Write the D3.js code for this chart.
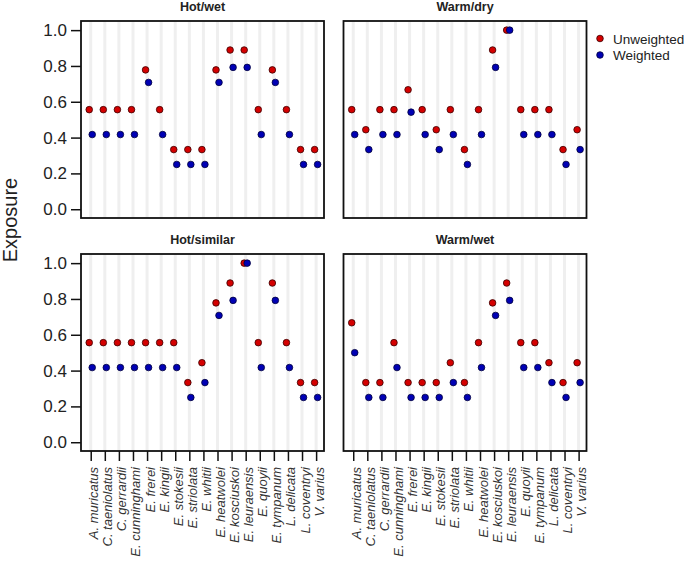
<!DOCTYPE html>
<html>
<head>
<meta charset="utf-8">
<script src="https://cdn.jsdelivr.net/npm/d3@7"></script>
<style>
  body { margin: 0; background: #fff; }
  svg { font-family: "Liberation Sans", Arial, sans-serif; }
</style>
</head>
<body>
<div id="chart"></div>
<script>
var width = 685;
var height = 565;

var species = ["A. muricatus", "C. taeniolatus", "C. gerrardii", "E. cunninghami",
  "E. frerei", "E. kingii", "E. stokesii", "E. striolata", "E. whitii",
  "E. heatwolei", "E. kosciuskoi", "E. leuraensis", "E. quoyii", "E. tympanum",
  "L. delicata", "L. coventryi", "V. varius"];

var yTicks = [0, 0.2, 0.4, 0.6, 0.8, 1.0];

// values per panel
var hotWetUnweighted = [0.556, 0.556, 0.556, 0.556, 0.778, 0.556, 0.333, 0.333, 0.333, 0.778, 0.889, 0.889, 0.556, 0.778, 0.556, 0.333, 0.333];
var hotWetWeighted   = [0.417, 0.417, 0.417, 0.417, 0.708, 0.417, 0.25, 0.25, 0.25, 0.708, 0.792, 0.792, 0.417, 0.708, 0.417, 0.25, 0.25];

var warmDryUnweighted = [0.556, 0.444, 0.556, 0.556, 0.667, 0.556, 0.444, 0.556, 0.333, 0.556, 0.889, 1.0, 0.556, 0.556, 0.556, 0.333, 0.444];
var warmDryWeighted   = [0.417, 0.333, 0.417, 0.417, 0.542, 0.417, 0.333, 0.417, 0.25, 0.417, 0.792, 1.0, 0.417, 0.417, 0.417, 0.25, 0.333];

var hotSimilarUnweighted = [0.556, 0.556, 0.556, 0.556, 0.556, 0.556, 0.556, 0.333, 0.444, 0.778, 0.889, 1.0, 0.556, 0.889, 0.556, 0.333, 0.333];
var hotSimilarWeighted   = [0.417, 0.417, 0.417, 0.417, 0.417, 0.417, 0.417, 0.25, 0.333, 0.708, 0.792, 1.0, 0.417, 0.792, 0.417, 0.25, 0.25];

var warmWetUnweighted = [0.667, 0.333, 0.333, 0.556, 0.333, 0.333, 0.333, 0.444, 0.333, 0.556, 0.778, 0.889, 0.556, 0.556, 0.444, 0.333, 0.444];
var warmWetWeighted   = [0.5, 0.25, 0.25, 0.417, 0.25, 0.25, 0.25, 0.333, 0.25, 0.417, 0.708, 0.792, 0.417, 0.417, 0.333, 0.25, 0.333];

var panels = [
  { title: "Hot/wet", u: hotWetUnweighted, w: hotWetWeighted, col: 0, row: 0 },
  { title: "Warm/dry", u: warmDryUnweighted, w: warmDryWeighted, col: 1, row: 0 },
  { title: "Hot/similar", u: hotSimilarUnweighted, w: hotSimilarWeighted, col: 0, row: 1 },
  { title: "Warm/wet", u: warmWetUnweighted, w: warmWetWeighted, col: 1, row: 1 }
];

var red = "#d40000", blue = "#0000b4";
var lefts = [81, 343.5], tops = [21, 254];
var pw = 243, ph = 197;

var svg = d3.select("#chart").append("svg")
  .attr("width", width)
  .attr("height", height);

panels.forEach(function (p) {
  var x0 = lefts[p.col], y0 = tops[p.row];
  var g = svg.append("g").attr("transform", "translate(" + x0 + "," + y0 + ")");

  var xScale = d3.scaleLinear().domain([0.31, 17.56]).range([0, pw]);
  var yScale = d3.scaleLinear().domain([-0.049, 1.051]).range([ph, 0]);

  // light stripes behind each species
  g.selectAll("line.stripe")
    .data(species)
    .enter()
    .append("line")
    .attr("class", "stripe")
    .attr("x1", function (d, i) { return xScale(i + 1); })
    .attr("x2", function (d, i) { return xScale(i + 1); })
    .attr("y1", 0)
    .attr("y2", ph)
    .attr("stroke", "#efefef")
    .attr("stroke-width", 3);

  // unweighted points then weighted
  g.selectAll("circle.u")
    .data(p.u)
    .enter()
    .append("circle")
    .attr("class", "u")
    .attr("cx", function (d, i) { return xScale(i + 1) - 1.5; })
    .attr("cy", function (d) { return yScale(d); })
    .attr("r", 3.3)
    .attr("fill", red)
    .attr("stroke", "#3a0000")
    .attr("stroke-width", 0.8);

  g.selectAll("circle.w")
    .data(p.w)
    .enter()
    .append("circle")
    .attr("class", "w")
    .attr("cx", function (d, i) { return xScale(i + 1) + 1.5; })
    .attr("cy", function (d) { return yScale(d); })
    .attr("r", 3.3)
    .attr("fill", blue)
    .attr("stroke", "#00003a")
    .attr("stroke-width", 0.8);

  // box
  g.append("rect")
    .attr("x", 0).attr("y", 0)
    .attr("width", pw).attr("height", ph)
    .attr("fill", "none")
    .attr("stroke", "#111")
    .attr("stroke-width", 1.8);

  // title
  svg.append("text")
    .attr("x", x0 + pw / 2)
    .attr("y", y0 - 10)
    .attr("text-anchor", "middle")
    .style("font-size", "12.5px")
    .style("font-weight", "bold")
    .attr("fill", "#222")
    .text(p.title);

  if (p.col == 0) {
    var yAxis = d3.axisLeft(yScale)
      .tickValues(yTicks)
      .tickFormat(d3.format(".1f"))
      .tickSize(10)
      .tickPadding(4);
    var ya = g.append("g").call(yAxis);
    ya.select(".domain").remove();
    ya.selectAll("line").attr("stroke", "#111").attr("stroke-width", 1.5);
    ya.selectAll("text").style("font-size", "17px").attr("fill", "#222");
  }

  if (p.row == 1) {
    var xAxis = d3.axisBottom(xScale)
      .tickValues(d3.range(1, 18))
      .tickFormat(function (d) { return species[d - 1]; })
      .tickSize(10);
    var xa = g.append("g").attr("transform", "translate(0," + ph + ")").call(xAxis);
    xa.select(".domain").remove();
    xa.selectAll("line").attr("stroke", "#111").attr("stroke-width", 1.5);
    xa.selectAll("text")
      .attr("transform", "translate(7,16) rotate(-90)")
      .attr("x", 0).attr("y", 0).attr("dy", 0)
      .style("text-anchor", "end")
      .style("font-size", "13px")
      .style("font-style", "italic")
      .attr("fill", "#333");
  }
});

// y label
svg.append("text")
  .attr("transform", "translate(17,220) rotate(-90)")
  .attr("text-anchor", "middle")
  .style("font-size", "20px")
  .attr("fill", "#222")
  .text("Exposure");

// legend
var legend = [{ name: "Unweighted", c: red, s: "#3a0000" }, { name: "Weighted", c: blue, s: "#00003a" }];
var lg = svg.append("g");
lg.selectAll("circle")
  .data(legend)
  .enter()
  .append("circle")
  .attr("cx", 600)
  .attr("cy", function (d, i) { return 38.5 + i * 16.5; })
  .attr("r", 3.3)
  .attr("fill", function (d) { return d.c; })
  .attr("stroke", function (d) { return d.s; })
  .attr("stroke-width", 0.8);
lg.selectAll("text")
  .data(legend)
  .enter()
  .append("text")
  .attr("x", 613)
  .attr("y", function (d, i) { return 43.5 + i * 16.5; })
  .style("font-size", "13.5px")
  .attr("fill", "#222")
  .text(function (d) { return d.name; });
</script>
</body>
</html>
